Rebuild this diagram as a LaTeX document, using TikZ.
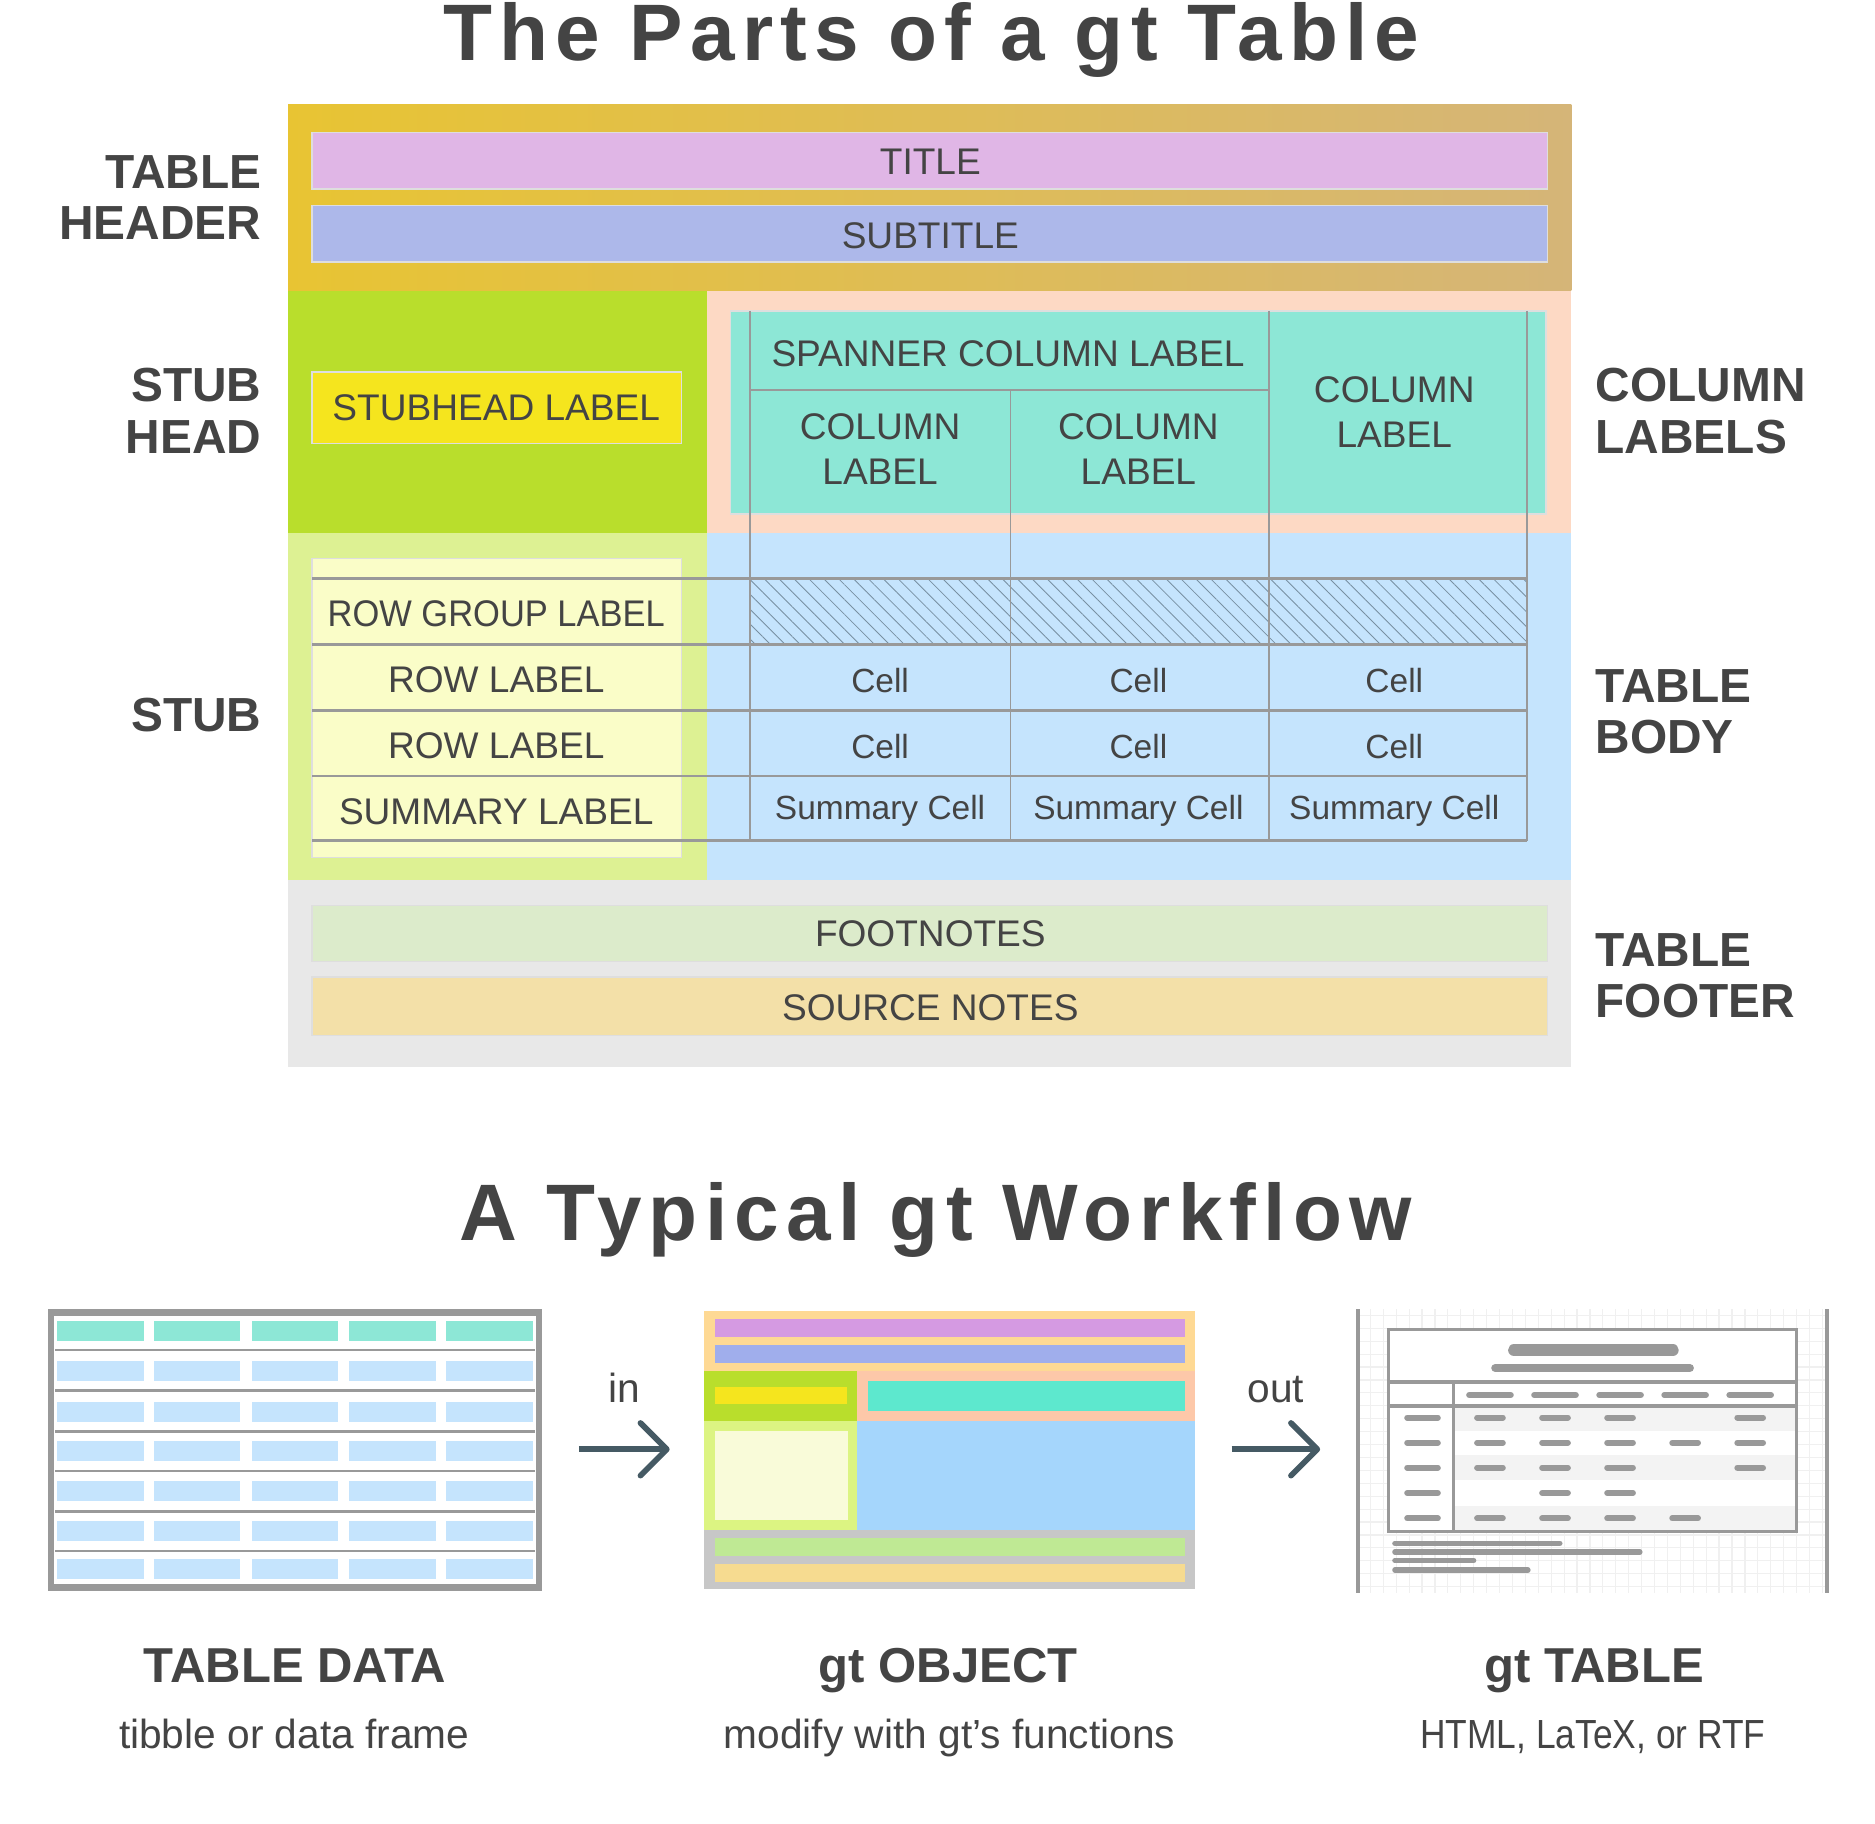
\documentclass[tikz,border=0pt]{standalone}
\usepackage{fontspec}
\setmainfont{Liberation Sans}
\newfontfamily\headfont[LetterSpace=9]{Liberation Sans}
\newfontfamily\narrowfont[FakeStretch=0.87]{Liberation Sans}
\newfontfamily\groupfont[FakeStretch=0.93]{Liberation Sans}
\usetikzlibrary{arrows.meta,patterns.meta}

\definecolor{ink}{HTML}{444444}
\definecolor{rule}{HTML}{999999}
\definecolor{hdrL}{HTML}{E8C433}
\definecolor{hdrR}{HTML}{D5B578}
\definecolor{titlec}{HTML}{E0B6E6}
\definecolor{subtc}{HTML}{ADB8EA}
\definecolor{stubhd}{HTML}{B9DE2C}
\definecolor{stubhl}{HTML}{F5E51E}
\definecolor{colreg}{HTML}{FDD9C4}
\definecolor{colbox}{HTML}{8DE7D6}
\definecolor{stubreg}{HTML}{DDF193}
\definecolor{stubbox}{HTML}{FAFDC8}
\definecolor{bodyreg}{HTML}{C5E4FD}
\definecolor{footreg}{HTML}{E8E8E8}
\definecolor{fnote}{HTML}{DCEBCB}
\definecolor{snote}{HTML}{F3E0A8}
\definecolor{hatch}{HTML}{7890A2}
\definecolor{arrowc}{HTML}{455A64}
\definecolor{objhdr}{HTML}{FED994}
\definecolor{objpurp}{HTML}{D59AE2}
\definecolor{objblue}{HTML}{A0AEEC}
\definecolor{objpeach}{HTML}{FDC8A9}
\definecolor{objteal}{HTML}{5DE8CE}
\definecolor{objstub}{HTML}{DCF482}
\definecolor{objstubin}{HTML}{F9FBD9}
\definecolor{objbody}{HTML}{A5D6FC}
\definecolor{objfoot}{HTML}{C7C7C7}
\definecolor{objgreen}{HTML}{BFE994}
\definecolor{objorange}{HTML}{F6DB90}
\definecolor{paper}{HTML}{F0F0F0}
\definecolor{stripe}{HTML}{F3F3F3}

\begin{document}
\begin{tikzpicture}[x=0.5pt,y=-0.5pt,
  txt/.style={text=ink, inner sep=0pt},
  part/.style={txt, font=\fontsize{15.5}{18.5}\selectfont, align=center},
  cell/.style={txt, anchor=base, font=\fontsize{14}{14}\selectfont},
  side/.style={txt, font=\bfseries\fontsize{20}{21.5}\selectfont},
  head/.style={txt, anchor=base, font=\headfont\bfseries\fontsize{33.5}{33.5}\selectfont},
  capt/.style={txt, anchor=base, font=\bfseries\fontsize{20.5}{20.5}\selectfont},
  note/.style={txt, anchor=base, font=\fontsize{17}{17}\selectfont},
  bar/.style={draw=black!13, line width=0.6pt},
  grid/.style={draw=rule, line width=1.1pt},
  vgrid/.style={draw=rule, line width=0.8pt},
  pill/.style={draw=rule, line cap=round},
  flow/.style={draw=arrowc, line width=2.4pt, -{Straight Barb[length=11pt,width=22pt,round]}}]

\useasboundingbox (0,0) rectangle (1568,1525);

% the parts of a gt table
\node[head] (parts) at (779,50.7) {The Parts of a gt Table};

\shade[left color=hdrL, right color=hdrR] (241,87) rectangle (1314,243);
\fill[stubhd] (241,243) rectangle (591,446);
\fill[colreg] (591,243) rectangle (1314,446);
\fill[stubreg] (241,446) rectangle (591,736);
\fill[bodyreg] (591,446) rectangle (1314,736);
\fill[footreg] (241,736) rectangle (1314,892);

\filldraw[bar, fill=titlec] (261,111) rectangle (1294,158);
\filldraw[bar, fill=subtc] (261,172) rectangle (1294,219);
\filldraw[bar, fill=stubhl] (261,311) rectangle (570,371);
\filldraw[bar, fill=colbox] (611,260) rectangle (1293,430);
\filldraw[bar, fill=stubbox] (261,467) rectangle (570,717);
\filldraw[bar, fill=fnote] (261,757) rectangle (1294,804);
\filldraw[bar, fill=snote] (261,817) rectangle (1294,866);

\fill[pattern={Lines[angle=-45,distance=4.4pt,line width=0.35pt]}, pattern color=hatch]
  (627,484) rectangle (1277,539);

\foreach \x in {627,1061,1277}
    \draw[vgrid] (\x,260) -- (\x,703);
\draw[vgrid] (845,326) -- (845,703);
\draw[grid] (627,326) -- (1061,326);
\foreach \y in {484,539,594,649,703}
    \draw[grid] (261,\y) -- (1277,\y);

\node[part] (title) at (778,135) {TITLE};
\node[part] (subtitle) at (778,197) {SUBTITLE};
\node[part] (stubhead) at (415,341) {STUBHEAD LABEL};
\node[part] (spanner) at (843,296) {SPANNER COLUMN LABEL};
\node[part] (col1) at (736,375.5) {COLUMN\\LABEL};
\node[part] (col2) at (952,375.5) {COLUMN\\LABEL};
\node[part] (col3) at (1166,344.5) {COLUMN\\LABEL};
\node[part, font=\groupfont\fontsize{15.5}{18.5}\selectfont] (group) at (415,513) {ROW GROUP LABEL};
\node[part] (row1) at (415,568.5) {ROW LABEL};
\node[part] (row2) at (415,623.5) {ROW LABEL};
\node[part] (summary) at (415,678.5) {SUMMARY LABEL};

\foreach \x [count=\i] in {736,952,1166} {
    \node[cell] (cella\i) at (\x,579) {Cell};
    \node[cell] (cellb\i) at (\x,634) {Cell};
    \node[cell] (sumcell\i) at (\x,685) {Summary Cell};
}

\node[part] (footnotes) at (778,781) {FOOTNOTES};
\node[part] (source) at (778,843) {SOURCE NOTES};

\node[side, anchor=east, align=right] (tblhead) at (219,165.4) {TABLE\\HEADER};
\node[side, anchor=east, align=right] (stbhead) at (219,343.7) {STUB\\HEAD};
\node[side, anchor=east, align=right] (stub) at (219,598) {STUB};
\node[side, anchor=west, align=left] (collabels) at (1334,343.7) {COLUMN\\LABELS};
\node[side, anchor=west, align=left] (tblbody) at (1334,595) {TABLE\\BODY};
\node[side, anchor=west, align=left] (tblfoot) at (1334,816) {TABLE\\FOOTER};

% a typical gt workflow
\node[head] (workflow) at (782.5,1037.5) {A Typical gt Workflow};

% table data
\fill[white] (42.5,1097.5) rectangle (451,1327.5);
\foreach \y [count=\r] in {1104.7,1138,1172.5,1205,1238.5,1272,1304}
    \foreach \x in {47.6,128.6,210.5,292,373} {
        \ifnum\r=1
            \fill[colbox] (\x,\y) rectangle ++(72.5,16.5);
        \else
            \fill[bodyreg] (\x,\y) rectangle ++(72.5,16.5);
        \fi
    }
\foreach \y in {1129,1163,1197,1230,1264,1297}
    \draw[draw=rule, line width=1.1pt] (46,\y) -- (447,\y);
\draw[rule, line width=2.6pt] (42.5,1097.5) rectangle (451,1327.5);

\node[capt] (datalbl) at (246.8,1407) {TABLE DATA};
\node[note] (datasub) at (246,1462) {tibble or data frame};

\node[note] (inlbl) at (522,1173) {in};
\coordinate (in-a) at (484,1212);
\coordinate (in-b) at (560,1212);
\draw[flow] (in-a) -- (in-b);

% gt object
\fill[objhdr] (589,1096) rectangle (999,1146.5);
\fill[objpurp] (598,1103) rectangle (991,1118);
\fill[objblue] (598,1125) rectangle (991,1140);
\fill[stubhd] (589,1146.5) rectangle (717,1188);
\fill[stubhl] (598,1160) rectangle (708,1174);
\fill[objpeach] (717,1146.5) rectangle (999,1188);
\fill[objteal] (725.5,1155) rectangle (991,1180);
\fill[objstub] (589,1188) rectangle (717,1279.6);
\fill[objstubin] (598,1197) rectangle (709,1271);
\fill[objbody] (717,1188) rectangle (999,1279.6);
\fill[objfoot] (589,1279.6) rectangle (999,1329);
\fill[objgreen] (598,1286) rectangle (991,1301);
\fill[objorange] (598,1308) rectangle (991,1323);

\node[capt] (objlbl) at (793,1407) {gt OBJECT};
\node[note] (objsub) at (794,1462) {modify with gt’s functions};

\node[note] (outlbl) at (1067,1173) {out};
\coordinate (out-a) at (1030,1212);
\coordinate (out-b) at (1104,1212);
\draw[flow] (out-a) -- (out-b);

% gt table
\foreach \x in {1146,1156.8,...,1526}
    \draw[paper, line width=0.5pt] (\x,1095) -- (\x,1332);
\foreach \y in {1100,1110.8,...,1331}
    \draw[paper, line width=0.5pt] (1135.5,\y) -- (1528,\y);
\draw[rule, line width=1.6pt] (1135.5,1095) -- (1135.5,1332);
\draw[rule, line width=1.6pt] (1528,1095) -- (1528,1332);

\fill[white] (1161,1111.5) rectangle (1502.6,1281);
\foreach \y in {1176.5,1217,1259.5}
    \fill[stripe] (1215.5,\y) rectangle (1502.6,\y+20.5);
\draw[rule, line width=1.3pt] (1161,1111.5) rectangle (1502.6,1281);
\draw[rule, line width=1.3pt] (1161,1155.7) -- (1502.6,1155.7);
\draw[rule, line width=1.3pt] (1161,1175.8) -- (1502.6,1175.8);
\draw[rule, line width=1.3pt] (1215.5,1155.7) -- (1215.5,1281);

\draw[pill, line width=4.85pt] (1266,1129) -- (1399,1129);
\draw[pill, line width=3.35pt] (1250.4,1144) -- (1413.2,1144);
\foreach \c in {1,...,5} {
    \pgfmathsetmacro\cx{1246+54.4*(\c-1)}
    \draw[pill, line width=2.5pt] (\cx-17.4,1166.6) -- (\cx+17.4,1166.6);
}
\foreach \y/\cols in {1185.5/{1,2,3,5},1206.5/{1,2,3,4,5},1227.4/{1,2,3,5},1248.5/{2,3},1269.7/{1,2,3,4}} {
    \draw[pill, line width=2.5pt] (1176.8,\y) -- (1202.4,\y);
    \foreach \c in \cols {
        \pgfmathsetmacro\cx{1246+54.4*(\c-1)}
        \draw[pill, line width=2.5pt] (\cx-10.75,\y) -- (\cx+10.75,\y);
    }
}
\foreach \y/\e in {1290.6/1306.7,1298/1373.6,1305/1234.6,1313/1280}
    \draw[pill, line width=2.25pt] (1166.5,\y) -- (\e-2.25,\y);

\node[capt] (tbllbl) at (1333,1407) {gt TABLE};
\node[note, font=\narrowfont\fontsize{17}{17}\selectfont] (tblsub) at (1332,1462) {HTML, LaTeX, or RTF};

\end{tikzpicture}
\end{document}
